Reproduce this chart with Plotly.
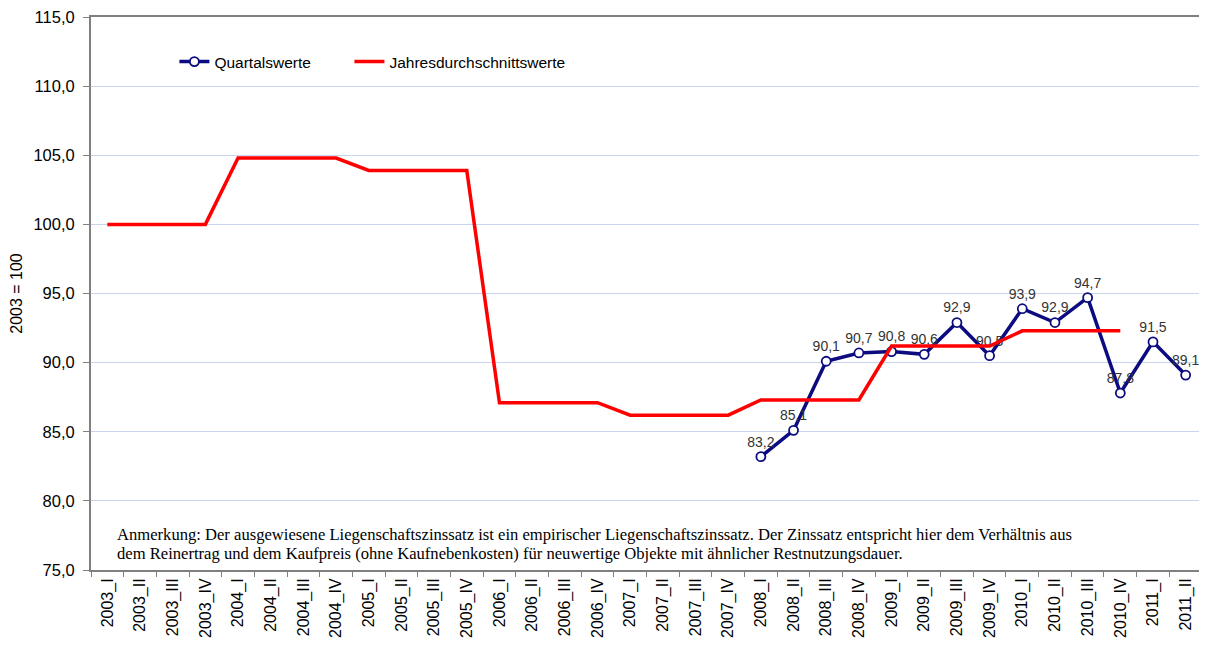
import plotly.graph_objects as go

categories = [f"{y}_{q}" for y in range(2003, 2011) for q in ["I", "II", "III", "IV"]] + ["2011_I", "2011_II"]

annual_years = [2003, 2004, 2005, 2006, 2007, 2008, 2009, 2010]
annual_values = [100.0, 104.8, 103.9, 87.1, 86.2, 87.3, 91.2, 92.3]

quarter_cats = ["2008_I", "2008_II", "2008_III", "2008_IV",
                "2009_I", "2009_II", "2009_III", "2009_IV",
                "2010_I", "2010_II", "2010_III", "2010_IV",
                "2011_I", "2011_II"]
quarter_values = [83.2, 85.1, 90.1, 90.7, 90.8, 90.6, 92.9, 90.5,
                  93.9, 92.9, 94.7, 87.8, 91.5, 89.1]

red_x = []
red_y = []
for yr, v in zip(annual_years, annual_values):
    for q in ["I", "II", "III", "IV"]:
        red_x.append(f"{yr}_{q}")
        red_y.append(v)

def de(v):
    return f"{v:.1f}".replace(".", ",")

W, H = 1207, 646
L, R, T, B = 83, 13, 9, 84
PW = W - L - R
PH = H - T - B
OX, OY = 6, 7  # page offset observed in the screenshot

def fx(sx):
    return (sx - OX - L) / PW

def fy(sy):
    return (H - B - (sy - OY)) / PH

fig = go.Figure()
fig.add_trace(go.Scatter(
    x=quarter_cats, y=quarter_values, name="Quartalswerte",
    mode="lines+markers+text",
    line=dict(color="#0c0c80", width=3.5),
    marker=dict(symbol="circle", size=9, color="white", line=dict(color="#0c0c80", width=1.8)),
    text=[de(v) for v in quarter_values], textposition="top center",
    textfont=dict(family="Liberation Sans, Arial", size=14, color="#333333"),
    cliponaxis=False, legend="legend",
))
fig.add_trace(go.Scatter(
    x=red_x, y=red_y, name="Jahresdurchschnittswerte",
    mode="lines", line=dict(color="#ff0000", width=3.5), legend="legend2",
))

leg_common = dict(orientation="h", yanchor="middle", bgcolor="rgba(0,0,0,0)",
                  font=dict(size=15.5), itemwidth=30, xanchor="left")

note_font = dict(family="Liberation Serif, DejaVu Serif, serif", size=16.6, color="#000000")

fig.update_layout(
    width=W, height=H,
    margin=dict(l=L, r=R, t=T, b=B),
    paper_bgcolor="white", plot_bgcolor="white",
    font=dict(family="Liberation Sans, Arial", color="#000000"),
    legend=dict(x=fx(180 - 7.6), y=fy(61), **leg_common),
    legend2=dict(x=fx(355 - 7.6), y=fy(61), **leg_common),
    showlegend=True,
    shapes=[dict(type="rect", xref="paper", yref="paper", layer="below",
                 x0=fx(140), x1=fx(606),
                 y0=fy(90), y1=fy(38),
                 fillcolor="white", line=dict(width=0))],
    annotations=[
        dict(text="Anmerkung: Der ausgewiesene Liegenschaftszinssatz ist ein empirischer Liegenschaftszinssatz. Der Zinssatz entspricht hier dem Verhältnis aus",
             xref="paper", yref="paper", x=fx(117 - 4), y=fy(533), xanchor="left", yanchor="middle",
             align="left", showarrow=False, font=note_font),
        dict(text="dem Reinertrag und dem Kaufpreis (ohne Kaufnebenkosten) für neuwertige Objekte mit ähnlicher Restnutzungsdauer.",
             xref="paper", yref="paper", x=fx(117 - 4), y=fy(552), xanchor="left", yanchor="middle",
             align="left", showarrow=False, font=note_font),
    ],
)
fig.update_xaxes(
    type="category", categoryorder="array", categoryarray=categories,
    tickangle=-90, tickfont=dict(size=16), tickson="boundaries",
    ticks="outside", ticklen=5, tickcolor="#808080",
    showline=True, linecolor="#808080", linewidth=2, mirror=True,
    showgrid=False, range=[-0.5, len(categories) - 0.5], automargin=False,
    ticklabeloverflow="allow",
)
fig.update_yaxes(
    range=[75, 115], tickvals=[75, 80, 85, 90, 95, 100, 105, 110, 115],
    ticktext=[de(v) for v in [75, 80, 85, 90, 95, 100, 105, 110, 115]],
    tickfont=dict(size=16.5), ticks="outside", ticklen=6, tickcolor="#808080",
    ticklabelstandoff=5,
    showline=True, linecolor="#808080", linewidth=2, mirror=True,
    showgrid=True, gridcolor="#c9d5ec", gridwidth=1, automargin=False,
    ticklabeloverflow="allow",
    title=dict(text="2003 = 100", font=dict(size=16), standoff=8),
)
fig.write_html("out.html")
